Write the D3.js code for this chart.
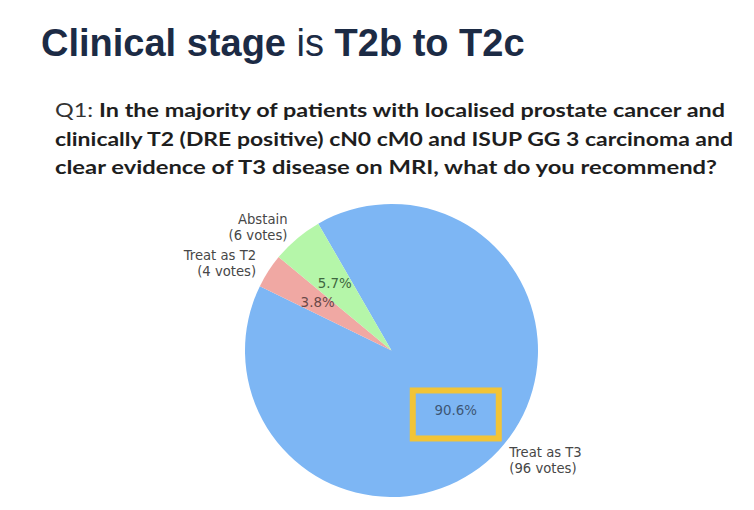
<!DOCTYPE html>
<html><head><meta charset="utf-8">
<script src="https://cdn.jsdelivr.net/npm/d3@7"></script>
<style>html,body{margin:0;padding:0;background:#fff;}svg{display:block;}</style>
</head><body>
<svg id="chart" width="754" height="510"></svg>
<script>
// ---- data ----
const categories = ["Treat as T3", "Treat as T2", "Abstain"];
const votes = [96, 4, 6];
const sliceColors = ["#7db6f4", "#f0a8a3", "#b5f6a9"];
const pctColors = ["#3d5676", "#6a4848", "#3f6640"];
const highlighted = "Treat as T3";
const titleParts = [["Clinical stage ", "bold"], ["is ", "normal"], ["T2b to T2c", "bold"]];
const questionLines = [
  [["Q1: ", "normal"], ["In the majority of patients with localised prostate cancer and", "bold"]],
  [["clinically T2 (DRE positive) cN0 cM0 and ISUP GG 3 carcinoma and", "bold"]],
  [["clear evidence of T3 disease on MRI, what do you recommend?", "bold"]]
];
const questionWidths = [670, 678, 662];

const svg = d3.select("#chart");

// title
const title = svg.append("text").attr("x", 41).attr("y", 56)
  .attr("font-family", "'Liberation Sans', Arial, sans-serif")
  .attr("font-size", 38).attr("fill", "#1c2b45");
title.selectAll("tspan").data(titleParts).join("tspan")
  .attr("font-weight", d => d[1]).text(d => d[0]);

// question
const qBase = [117, 145.5, 174];
questionLines.forEach((line, i) => {
  const t = svg.append("text").attr("x", 55).attr("y", qBase[i])
    .attr("font-family", "Lato, 'Open Sans', sans-serif")
    .attr("font-size", 19.5).attr("fill", "#1e1e1e")
    .attr("textLength", questionWidths[i]).attr("lengthAdjust", "spacingAndGlyphs");
  t.selectAll("tspan").data(line).join("tspan")
    .attr("font-weight", d => d[1])
    .attr("fill", d => d[1] === "normal" ? "#333" : "#1e1e1e")
    .text(d => d[0]);
});

// pie
const cx = 391.5, cy = 350.5, r = 146.5;
const data = categories.map((c, i) => ({cat: c, v: votes[i], color: sliceColors[i], pc: pctColors[i]}));
const total = d3.sum(votes);
const start = -Math.PI / 6;
const pie = d3.pie().sort(null).value(d => d.v).startAngle(start).endAngle(start + 2 * Math.PI);
const arcs = pie(data);
const arc = d3.arc().innerRadius(0).outerRadius(r);
const g = svg.append("g").attr("transform", `translate(${cx},${cy})`);
g.selectAll("path.slice").data(arcs).join("path").attr("class", "slice")
  .attr("d", arc).attr("fill", d => d.data.color);

const font = "'DejaVu Sans', sans-serif";
const pctArc = d3.arc().innerRadius(0.6 * r).outerRadius(0.6 * r);
const labArc = d3.arc().innerRadius(1.1 * r).outerRadius(1.1 * r);
const fmt = d3.format(".1f");

arcs.forEach(d => {
  if (d.data.cat === highlighted) {
    const [px, py] = pctArc.centroid(d);
    g.append("rect").attr("x", px - 43).attr("y", py - 20).attr("width", 86).attr("height", 48)
      .attr("fill", "none").attr("stroke", "#f2c436").attr("stroke-width", 6);
  }
});

g.selectAll("text.pct").data(arcs).join("text").attr("class", "pct")
  .attr("transform", d => `translate(${pctArc.centroid(d)})`)
  .attr("text-anchor", "middle").attr("dominant-baseline", "central")
  .attr("font-family", font).attr("font-size", 13.4).attr("fill", d => d.data.pc)
  .text(d => fmt(d.data.v / total * 100) + "%");

const labs = g.selectAll("text.lab").data(arcs).join("text").attr("class", "lab")
  .attr("font-family", font).attr("font-size", 13.2).attr("fill", "#474747")
  .attr("text-anchor", d => labArc.centroid(d)[0] < 0 ? "end" : "start")
  .attr("transform", d => `translate(${labArc.centroid(d)})`);
labs.each(function(d) {
  const t = d3.select(this);
  const lines = [d.data.cat, `(${d.data.v} votes)`];
  lines.forEach((s, i) => {
    t.append("tspan").attr("x", 0).attr("y", (i - 0.5) * 15.5 + 4.7).text(s);
  });
});
</script>
</body></html>
